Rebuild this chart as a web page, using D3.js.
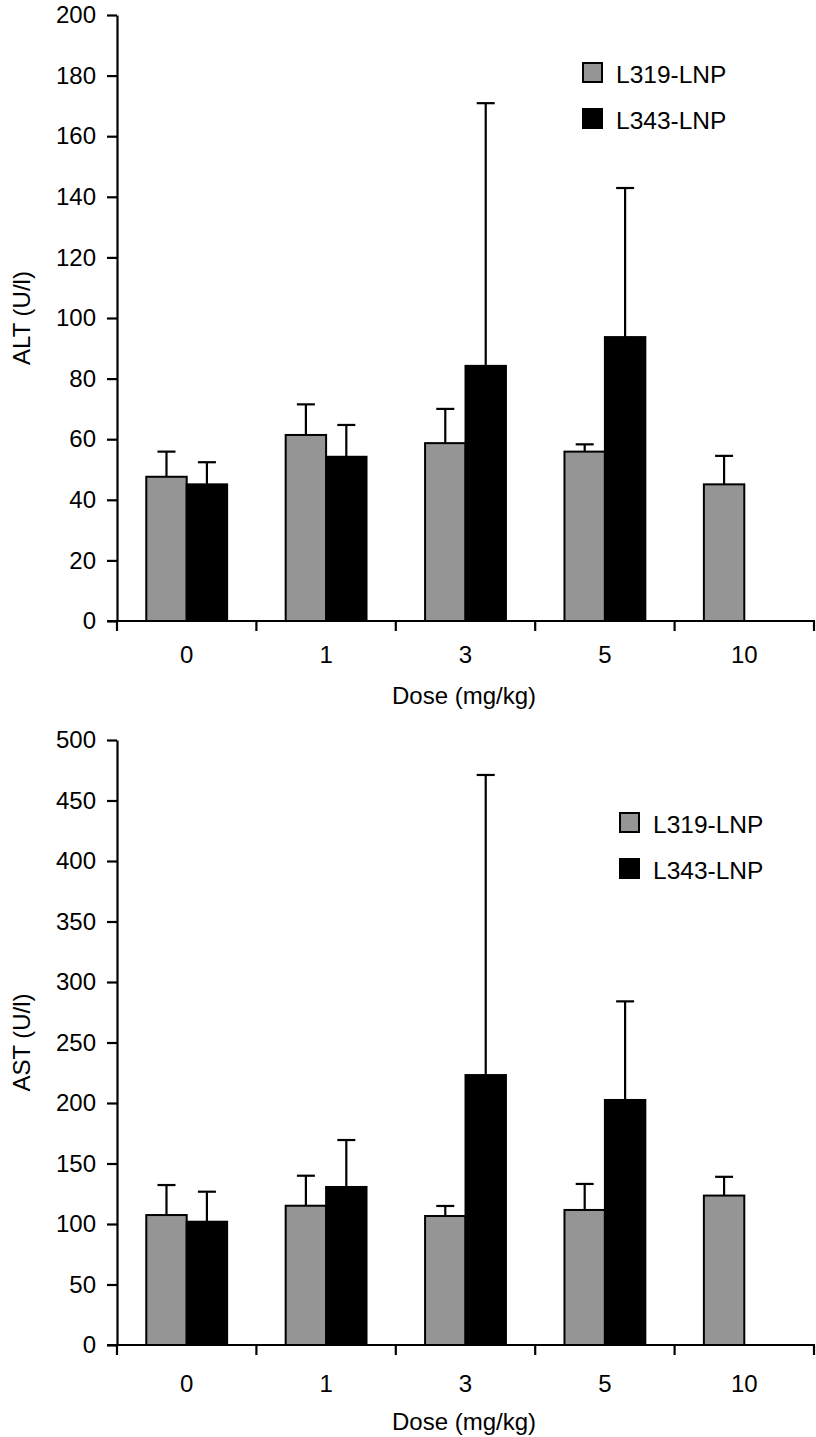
<!DOCTYPE html>
<html>
<head>
<meta charset="utf-8">
<script src="https://cdn.jsdelivr.net/npm/d3@7"></script>
<style>
  body { margin: 0; background: #fff; }
  svg text { font-family: "Liberation Sans", Arial, Helvetica, sans-serif; fill: #000; }
</style>
</head>
<body>
<svg id="chart" width="816" height="1437"></svg>
<script>
// ---- data ----
const doses = ["0", "1", "3", "5", "10"];
const seriesNames = ["L319-LNP", "L343-LNP"];
const seriesColors = ["#959595", "#000000"];

const altL319 = [47.6, 61.4, 58.7, 55.9, 45.1];
const altL319Err = [8.3, 10.1, 11.3, 2.4, 9.4];
const altL343 = [45.1, 54.2, 84.2, 93.7, null];
const altL343Err = [7.3, 10.5, 86.7, 49.2, null];

const astL319 = [107.4, 115.1, 106.6, 111.6, 123.5];
const astL319Err = [24.8, 24.8, 8.3, 21.5, 15.5];
const astL343 = [101.9, 130.6, 223.1, 202.5, null];
const astL343Err = [24.8, 38.8, 248.0, 81.5, null];

const altTicks = [0, 20, 40, 60, 80, 100, 120, 140, 160, 180, 200];
const astTicks = [0, 50, 100, 150, 200, 250, 300, 350, 400, 450, 500];

const xTitle = "Dose (mg/kg)";

const svg = d3.select("#chart");
const FS = 24;

function drawPanel(cfg) {
  const g = svg.append("g");
  const y = d3.scaleLinear().domain([0, cfg.yMax]).range([cfg.y0, cfg.yTop]);
  const x = d3.scaleBand().domain(doses).range([117, 814]).paddingInner(0.42).paddingOuter(0.21);
  const xs = d3.scaleBand().domain(seriesNames).range([0, x.bandwidth()]);
  const step = x.step();

  const rows = [];
  doses.forEach((d, i) => {
    cfg.vals.forEach((arr, s) => {
      if (arr[i] !== null) rows.push({ dose: d, s: s, v: arr[i], e: cfg.errs[s][i] });
    });
  });

  // error bars (behind bars)
  const eb = g.append("g").attr("stroke", "#000").attr("stroke-width", 2.2);
  rows.forEach(r => {
    const cx = x(r.dose) + xs(seriesNames[r.s]) + xs.bandwidth() / 2;
    eb.append("line").attr("x1", cx).attr("x2", cx).attr("y1", y(r.v)).attr("y2", y(r.v + r.e));
    eb.append("line").attr("x1", cx - 9).attr("x2", cx + 9).attr("y1", y(r.v + r.e)).attr("y2", y(r.v + r.e));
  });

  // bars
  g.append("g").selectAll("rect").data(rows).join("rect")
    .attr("x", r => x(r.dose) + xs(seriesNames[r.s]))
    .attr("width", xs.bandwidth())
    .attr("y", r => y(r.v))
    .attr("height", r => y(0) - y(r.v))
    .attr("fill", r => seriesColors[r.s])
    .attr("stroke", "#000")
    .attr("stroke-width", 2);

  // y axis
  const ya = g.append("g").attr("transform", "translate(117,0)")
    .call(d3.axisLeft(y).tickValues(cfg.ticks).tickFormat(d3.format("d")).tickSize(10).tickSizeOuter(0).tickPadding(11));
  ya.selectAll("path, line").attr("stroke", "#000").attr("stroke-width", 2.2);
  ya.selectAll("text").attr("font-size", FS).attr("font-family", "Liberation Sans, Arial, sans-serif").attr("fill", "#000");

  // x axis line and boundary ticks
  const xa = g.append("g").attr("stroke", "#000").attr("stroke-width", 2.2);
  xa.append("line").attr("x1", 107).attr("x2", 815).attr("y1", cfg.y0).attr("y2", cfg.y0);
  const bounds = doses.map(d => x(d) - step * x.paddingInner() / 2);
  bounds.push(x(doses[doses.length - 1]) + x.bandwidth() + step * x.paddingInner() / 2);
  bounds.forEach(bx => {
    xa.append("line").attr("x1", bx).attr("x2", bx).attr("y1", cfg.y0).attr("y2", cfg.y0 + 10);
  });
  // x labels
  g.append("g").selectAll("text").data(doses).join("text")
    .attr("x", d => x(d) + x.bandwidth() / 2)
    .attr("y", cfg.y0 + cfg.labOff)
    .attr("text-anchor", "middle")
    .attr("font-size", FS)
    .text(d => d);

  g.append("text").attr("x", 464).attr("y", cfg.y0 + cfg.titleOff)
    .attr("text-anchor", "middle").attr("font-size", FS).text(xTitle);

  g.append("text")
    .attr("transform", `translate(30,${(cfg.y0 + cfg.yTop) / 2}) rotate(-90)`)
    .attr("text-anchor", "middle").attr("font-size", FS).text(cfg.yTitle);

  // legend
  const lg = g.append("g");
  seriesNames.forEach((n, i) => {
    lg.append("rect").attr("x", cfg.legX).attr("y", cfg.legY + i * 46)
      .attr("width", 19).attr("height", 19)
      .attr("fill", seriesColors[i]).attr("stroke", "#000").attr("stroke-width", 2);
    lg.append("text").attr("x", cfg.legX + 33).attr("y", cfg.legY + i * 46 + 20)
      .attr("font-size", 24.5).text(n);
  });
}

drawPanel({ y0: 621, yTop: 15, yMax: 200, ticks: altTicks, vals: [altL319, altL343], errs: [altL319Err, altL343Err],
  yTitle: "ALT (U/l)", labOff: 42, titleOff: 83, legX: 583, legY: 63 });
drawPanel({ y0: 1345, yTop: 740, yMax: 500, ticks: astTicks, vals: [astL319, astL343], errs: [astL319Err, astL343Err],
  yTitle: "AST (U/l)", labOff: 47, titleOff: 85, legX: 620, legY: 813 });
</script>
</body>
</html>
